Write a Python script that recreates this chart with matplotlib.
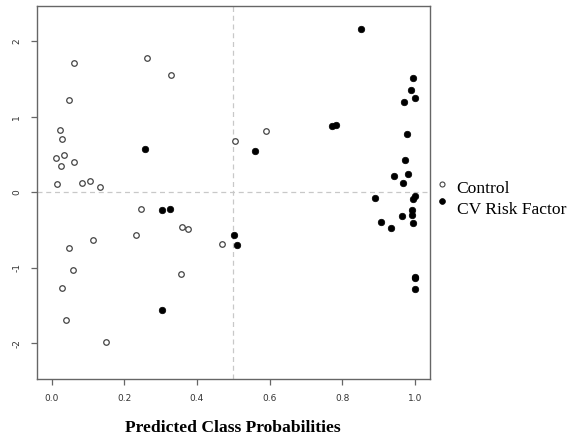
import matplotlib
matplotlib.use("Agg")
import matplotlib.pyplot as plt
from matplotlib.lines import Line2D

# Control group (open circles)
control_x = [0.061, 0.048, 0.023, 0.029, 0.012, 0.033, 0.027, 0.063, 0.015, 0.084,
             0.105, 0.133, 0.262, 0.328, 0.505, 0.589, 0.247, 0.358, 0.375, 0.231,
             0.113, 0.047, 0.469, 0.059, 0.355, 0.029, 0.039, 0.150]
control_y = [1.71, 1.22, 0.83, 0.70, 0.46, 0.49, 0.35, 0.40, 0.11, 0.13,
             0.15, 0.066, 1.78, 1.55, 0.68, 0.815, -0.22, -0.455, -0.48, -0.56,
             -0.635, -0.737, -0.69, -1.03, -1.077, -1.27, -1.69, -1.976]

# CV Risk Factor group (filled circles)
cv_x = [0.257, 0.304, 0.325, 0.559, 0.501, 0.509, 0.304, 0.853, 0.994, 0.989,
        0.999, 0.969, 0.773, 0.784, 0.977, 0.973, 0.942, 0.980, 0.968, 1.0,
        0.994, 0.889, 0.993, 0.964, 0.992, 0.907, 0.933, 0.995, 0.999, 1.0, 1.0]
cv_y = [0.577, -0.24, -0.216, 0.546, -0.569, -0.70, -1.557, 2.164, 1.51, 1.36,
        1.25, 1.20, 0.873, 0.89, 0.775, 0.423, 0.21, 0.246, 0.119, -0.045,
        -0.089, -0.07, -0.234, -0.31, -0.30, -0.389, -0.472, -0.41, -1.12, -1.135, -1.275]

x_ticks = [0.0, 0.2, 0.4, 0.6, 0.8, 1.0]
x_ticklabels = ["0.0", "0.2", "0.4", "0.6", "0.8", "1.0"]
y_ticks = [-2, -1, 0, 1, 2]
y_ticklabels = ["-2", "-1", "0", "1", "2"]
legend_labels = ["Control", "CV Risk Factor"]
xlabel = "Predicted Class Probabilities"

W, H = 570, 437
fig = plt.figure(figsize=(W / 100, H / 100), dpi=100)
ax = fig.add_axes([0.0644, 0.1327, 0.6896, 0.8533])

ax.axvline(0.5, color="#c8c8c8", lw=0.9, ls=(0, (4, 3)), zorder=1)
ax.axhline(0.0, color="#c8c8c8", lw=0.9, ls=(0, (4, 3)), zorder=1)

ax.scatter(control_x, control_y, s=16, facecolors="white", edgecolors="#444444",
           linewidths=0.9, zorder=3)
ax.scatter(cv_x, cv_y, s=22, facecolors="black", edgecolors="black",
           linewidths=0.5, zorder=3)

ax.set_xlim(-0.041, 1.041)
ax.set_ylim(-2.47, 2.464)
ax.set_xticks(x_ticks)
ax.set_xticklabels(x_ticklabels)
ax.set_yticks(y_ticks)
ax.set_yticklabels(y_ticklabels, rotation=90, va="center")

for sp in ax.spines.values():
    sp.set_color("#666666")
    sp.set_linewidth(1.0)

ax.tick_params(axis="both", direction="out", length=4, width=0.9, color="#666666",
               labelsize=6.5, labelcolor="#333333", pad=7)

fig.text(0.4085, 0.0121, xlabel, fontfamily="Liberation Serif", fontweight="bold",
         fontsize=12.6, ha="center", va="baseline")

# Legend (R-style, outside the plot region)
legend_styles = [
    dict(markersize=3.6, markerfacecolor="white", markeredgecolor="#444444", markeredgewidth=0.8),
    dict(markersize=4.2, markerfacecolor="black", markeredgecolor="black", markeredgewidth=0.5),
]
marker_px = [(442, 184), (442, 200.7)]
text_px = [(456.7, 193.3), (456.7, 214)]
for label, style, (mx, my), (tx, ty) in zip(legend_labels, legend_styles, marker_px, text_px):
    fig.add_artist(Line2D([mx / W], [1 - my / H], transform=fig.transFigure,
                          ls="none", marker="o", **style))
    fig.text(tx / W, 1 - ty / H, label, fontfamily="Liberation Serif", fontsize=12.6,
             ha="left", va="baseline")

fig.savefig("out.png", dpi=100)
